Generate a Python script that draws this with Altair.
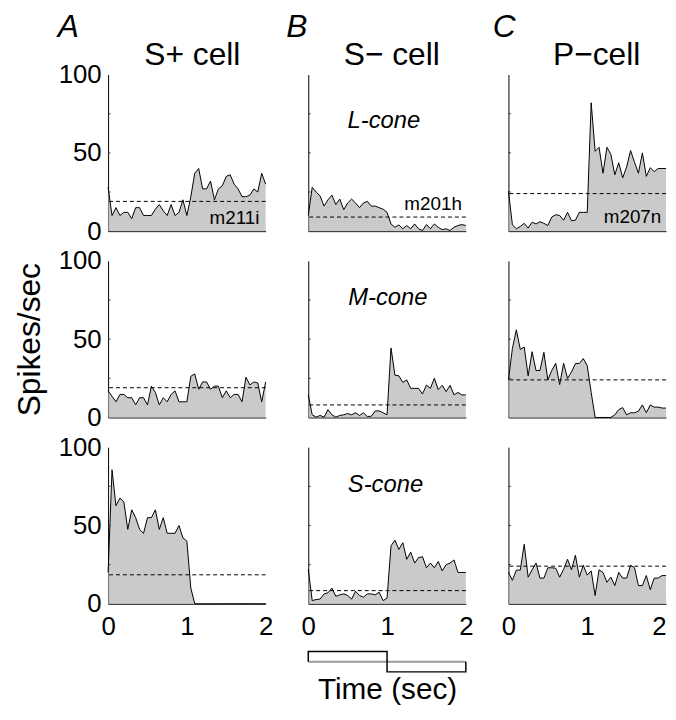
import altair as alt
import pandas as pd

FONT = "Liberation Sans"
FILL = "#b4b4b4"

TIME = [0.0, 0.05, 0.1, 0.15, 0.2, 0.25, 0.3, 0.35, 0.4, 0.45,
        0.5, 0.55, 0.6, 0.65, 0.7, 0.75, 0.8, 0.85, 0.9, 0.95,
        1.0, 1.05, 1.1, 1.15, 1.2, 1.25, 1.3, 1.35, 1.4, 1.45,
        1.5, 1.55, 1.6, 1.65, 1.7, 1.75, 1.8, 1.85, 1.9, 1.95, 2.0]

# Row 1: L-cone
A1 = [28, 10, 15, 10, 12, 12, 8, 15, 15, 10, 10, 10, 14, 17, 13, 10, 17, 10, 12, 20,
      10, 22, 37, 40, 27, 27, 32, 20, 27, 29, 35, 36, 30, 27, 22, 22, 23, 27, 25, 37, 30]
B1 = [10, 28, 25, 22.5, 16, 20, 23, 17, 20.5, 13.7, 18, 20.5, 18, 15, 18, 19, 16, 16, 15, 14,
      12, 4.6, 2.5, 4, 1.5, 3.6, 1.5, 4.6, 1.5, 0.4, 4.2, 1.5, 4.6, 2.5, 1, 1.5, 0.4, 2.5, 3.6, 4.2, 3.6]
C1 = [25.7, 4, 1.5, 3, 5, 2, 5.7, 4.6, 6, 5, 3.6, 9, 10.5, 10, 7, 12, 6.7, 7, 12, 12,
      12, 82, 51, 53.6, 37, 53.6, 49, 36, 43.7, 34, 41, 51.5, 44, 37, 50, 35, 40.5, 38, 40, 40, 40]
# Row 2: M-cone
A2 = [17, 13.5, 10, 14.7, 14.7, 12.6, 12.6, 8, 12.6, 12.6, 8, 20, 16, 8, 12.6, 10, 14.7, 17, 10, 10,
      10, 26.3, 27.8, 18, 22.7, 22.7, 18, 20, 20, 12.6, 17, 12.6, 14.7, 14.7, 10, 25.7, 20.8, 22.7, 22, 10, 22.7]
B2 = [14.4, 1.7, 0.2, 1.3, 0.2, 5, 1.7, 0.2, 1.3, 1.7, 2.5, 1.7, 3, 1.3, 3, 0.6, 0.8, 4.2, 4.2, 3,
      1.7, 44.4, 27, 26.6, 22.4, 24, 18.6, 18.6, 18.6, 15, 20.7, 18.6, 25, 17.8, 20.5, 16.5, 20.5, 14.4, 16, 14.4, 14.4]
C2 = [24, 44, 56, 43.5, 45, 26.6, 42, 30, 30, 41.6, 24, 30, 34.6, 21, 34.6, 25, 29, 34.5, 34.5, 37.6,
      33, 16, 0, 0, 0, 0, 0, 1.7, 5, 6.3, 1.7, 3, 3, 4, 8, 3, 8, 6.6, 6.6, 6, 6]
# Row 3: S-cone
A3 = [20, 85.6, 62.6, 67.5, 65, 47.5, 60, 55, 47.5, 45, 55, 55, 60, 47.5, 55, 45, 45, 45, 50, 42,
      40, 10, 0, 0, 0, 0, 0, 0, 0, 0, 0, 0, 0, 0, 0, 0, 0, 0, 0, 0, 0]
B3 = [22, 2, 2.7, 3, 6.3, 7, 10, 4.8, 5.7, 6.3, 5.3, 3, 8, 5.3, 4.2, 6.3, 6.3, 5.7, 7.4, 2,
      3.6, 37, 40.6, 34.7, 39, 28.4, 33, 26, 29.5, 30, 23, 26, 23, 27, 21, 25, 26, 28, 20, 20, 20]
C3 = [20, 15, 21.5, 21.5, 38, 17, 21.7, 26, 16.4, 16.4, 23, 23, 22.7, 17, 22, 28.4, 21.7, 31, 17, 24.6,
      18.3, 21, 5.3, 21.7, 20, 13.7, 17, 11.6, 20, 16.4, 16.4, 24.6, 23, 11.6, 11.6, 18, 9, 16.4, 16.4, 18, 18]

SERIES = [[A1, B1, C1], [A2, B2, C2], [A3, B3, C3]]
BASELINES = [[19, 9, 24], [19, 8, 24], [18.5, 8.4, 24]]

COLUMN_LETTERS = ["A", "B", "C"]
LETTER_X = [-0.64, -0.28, -0.2]
COLUMN_TITLES = ["S+ cell", "S\u2212 cell", "P\u2212cell"]
TITLE_X = [1.07, 1.06, 1.12]

CONE_LABELS = ["L-cone", "M-cone", "S-cone"]
CONE_X = [0.96, 1.01, 0.98]
CONE_Y = [66, 72, 71.5]

CELL_IDS = ["m211i", "m201h", "m207n"]
CELL_ID_X = [1.92, 1.95, 1.94]
CELL_ID_Y = [4.5, 13.3, 5]

Y_TICKS = [25, 50, 75]
X_TICK_VALUES = [0, 1, 2]
Y_TICK_VALUES = [0, 50, 100]

STIM_T = [0, 0, 1, 1, 2, 2]
STIM_Y = [-37, -30.5, -30.5, -43.5, -43.5, -37]
STIM_BASE_T = [0, 2]
STIM_BASE_Y = [-37, -37]

W = 159
H = 158


def panel(row, col):
    df = pd.DataFrame({"t": TIME, "r": SERIES[row][col]})
    xa = dict(values=X_TICK_VALUES, labelExpr="'' + round(datum.value)", labels=(row == 2),
              ticks=False, grid=False, domain=True, domainColor="black", labelFontSize=26,
              labelFont=FONT, labelColor="black", labelPadding=10, labelOverlap=False,
              labelFlush=False, labelBound=False)
    if row == 2 and col == 2:
        xa.update(labelAlign={"condition": {"test": "datum.value >= 2", "value": "right"},
                              "value": "center"})
    ya = dict(values=Y_TICK_VALUES, format="d", labels=(col == 0), ticks=False, grid=False,
              domain=True, domainColor="black", labelFontSize=26, labelFont=FONT,
              labelColor="black", labelPadding=7, labelOverlap=False, labelFlush=False)
    if row == 2 and col == 1:
        xa.update(title="Time (sec)", titleFontSize=30, titleFont=FONT,
                  titleFontWeight="normal", titleColor="black", titlePadding=36)
    else:
        xa.update(title="")
    if row == 1 and col == 0:
        ya.update(title="Spikes/sec", titleFontSize=32, titleFont=FONT,
                  titleFontWeight="normal", titleColor="black", titlePadding=12)
    else:
        ya.update(title="")

    xs = alt.Scale(domain=[0, 2], nice=False, zero=False)
    ys = alt.Scale(domain=[0, 100], nice=False)
    x = alt.X("t:Q", scale=xs, axis=alt.Axis(**xa))
    y = alt.Y("r:Q", scale=ys, axis=alt.Axis(**ya))

    area = alt.Chart(df).mark_area(
        color=FILL, interpolate="linear", line={"color": "black", "strokeWidth": 1}
    ).encode(x=x, y=y)

    base = alt.Chart(pd.DataFrame({"r": [BASELINES[row][col]]})).mark_rule(
        color="black", strokeWidth=1, strokeDash=[4, 3]
    ).encode(y=y)

    tick_df = pd.DataFrame({"t": [0] * len(Y_TICKS), "t2": [0.03] * len(Y_TICKS), "r": Y_TICKS})
    ticks = alt.Chart(tick_df).mark_rule(color="#333333", strokeWidth=1).encode(
        x=x, x2="t2:Q", y=y
    )

    layers = [area, base, ticks]

    def label(tx, ry, s, **kw):
        return alt.Chart(pd.DataFrame({"t": [tx], "r": [ry], "s": [s]})).mark_text(
            font=FONT, color="black", baseline="alphabetic", **kw
        ).encode(x=x, y=y, text="s:N")

    if col == 1:
        layers.append(label(CONE_X[row], CONE_Y[row], CONE_LABELS[row],
                            fontSize=24, fontStyle="italic", align="center"))
    if row == 0:
        layers.append(label(CELL_ID_X[col], CELL_ID_Y[col], CELL_IDS[col],
                            fontSize=19, align="right"))
        layers.append(label(TITLE_X[col], 106, COLUMN_TITLES[col],
                            fontSize=32, align="center"))
        layers.append(label(LETTER_X[col], 124, COLUMN_LETTERS[col],
                            fontSize=32, fontStyle="italic", align="left"))
    if row == 2 and col == 1:
        layers.append(
            alt.Chart(pd.DataFrame({"t": STIM_BASE_T, "r": STIM_BASE_Y, "i": [0, 1]}))
            .mark_line(color="#9a9a9a", strokeWidth=2)
            .encode(x=x, y=y, order="i:Q")
        )
        layers.append(
            alt.Chart(pd.DataFrame({"t": STIM_T, "r": STIM_Y, "i": list(range(len(STIM_T)))}))
            .mark_line(color="black", strokeWidth=1.5)
            .encode(x=x, y=y, order="i:Q")
        )

    return alt.layer(*layers).properties(
        width=W, height=H, view=alt.ViewBackground(stroke="transparent", strokeWidth=0)
    )


panels = [panel(r, c) for r in range(3) for c in range(3)]
chart = alt.concat(
    *panels, columns=3, spacing={"row": 30, "column": 43}, bounds="flush"
).properties(
    padding={"left": 5, "top": 0, "right": 0, "bottom": 0}
).configure_view(strokeWidth=0, stroke="transparent").configure_axis(
    grid=False
).configure(background="white")

chart.save("out.html", embed_options={"renderer": "svg", "actions": False})
